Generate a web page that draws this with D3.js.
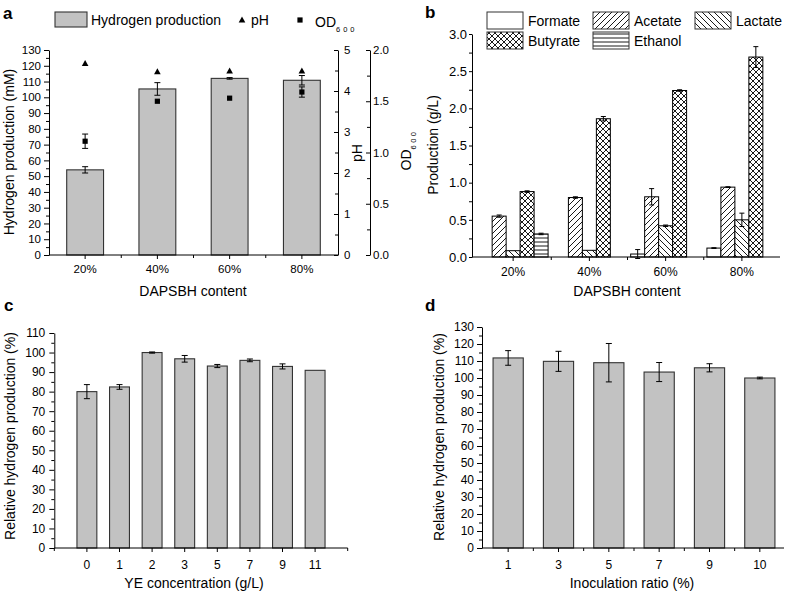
<!DOCTYPE html>
<html><head><meta charset="utf-8">
<script src="https://cdn.jsdelivr.net/npm/d3@7"></script>
<style>body{margin:0;background:#fff} svg{display:block} text{font-family:"Liberation Sans",Arial,sans-serif;fill:#000}</style>
</head><body><script>
// ---------- data ----------
const contentCats = ["20%", "40%", "60%", "80%"];
const h2Production = [54, 105.3, 112, 110.8];
const h2Error = [2, 4, 0.5, 3];
const pHValues = [4.67, 4.47, 4.49, 4.49];
const odValues = [1.11, 1.50, 1.53, 1.59];
const odError = [0.07, 0, 0, 0.05];

const acidNames = ["Formate", "Acetate", "Lactate", "Butyrate", "Ethanol"];
const formateVals = [0, 0, 0.04, 0.12];
const formateErr = [0, 0, 0.06, 0.005];
const acetateVals = [0.55, 0.80, 0.81, 0.94];
const acetateErr = [0.015, 0.01, 0.11, 0.005];
const lactateVals = [0.085, 0.09, 0.42, 0.50];
const lactateErr = [0, 0, 0.01, 0.09];
const butyrateVals = [0.88, 1.86, 2.24, 2.69];
const butyrateErr = [0.01, 0.03, 0.01, 0.14];
const ethanolVals = [0.31, 0, 0, 0];
const ethanolErr = [0.01, 0, 0, 0];

const yeCats = ["0", "1", "2", "3", "5", "7", "9", "11"];
const yeValues = [80.0, 82.4, 100, 96.8, 93.1, 96.0, 92.9, 90.9];
const yeError = [3.6, 1.2, 0.3, 1.7, 0.8, 0.7, 1.3, 0];

const inocCats = ["1", "3", "5", "7", "9", "10"];
const inocValues = [111.8, 109.8, 109, 103.5, 106, 100];
const inocError = [4.3, 5.9, 11.3, 5.6, 2.4, 0.5];

// ---------- setup ----------
const FONT = '"Liberation Sans", Arial, sans-serif';
const BAR_FILL = "#c2c2c2", BAR_STROKE = "#333";
const svg = d3.select("body").append("svg").attr("width", 785).attr("height", 593);

const defs = svg.append("defs");
function pat(id, w, h, d) {
  const p = defs.append("pattern").attr("id", id).attr("patternUnits", "userSpaceOnUse").attr("width", w).attr("height", h);
  p.append("rect").attr("width", w).attr("height", h).attr("fill", "#fff");
  p.append("path").attr("d", d).attr("stroke", "#000").attr("stroke-width", 0.9).attr("fill", "none");
}
pat("pAcetate", 6, 6, "M-1,1 l2,-2 M0,6 l6,-6 M5,7 l2,-2");
pat("pLactate", 6, 6, "M-1,5 l2,2 M0,0 l6,6 M5,-1 l2,2");
pat("pButyrate", 6, 6, "M-1,1 l2,-2 M0,6 l6,-6 M5,7 l2,-2 M-1,5 l2,2 M0,0 l6,6 M5,-1 l2,2");
pat("pEthanol", 4, 4, "M0,2 h4");
const acidFill = { Formate: "#fff", Acetate: "url(#pAcetate)", Lactate: "url(#pLactate)", Butyrate: "url(#pButyrate)", Ethanol: "url(#pEthanol)" };

function styleAxis(a, fs) {
  a.attr("font-family", FONT).attr("font-size", fs);
  a.selectAll("line,path").attr("stroke", "#000");
  return a;
}
function yAxis(side, scale, x, major, minor, fmt, fs, tick, pad) {
  const gen = side === "left" ? d3.axisLeft(scale) : d3.axisRight(scale);
  const a = svg.append("g").attr("transform", `translate(${x},0)`)
    .call(gen.tickValues(major).tickFormat(fmt).tickSizeInner(tick).tickSizeOuter(0).tickPadding(pad));
  styleAxis(a, fs);
  const gen2 = side === "left" ? d3.axisLeft(scale) : d3.axisRight(scale);
  const m = svg.append("g").attr("transform", `translate(${x},0)`)
    .call(gen2.tickValues(minor).tickFormat("").tickSizeInner(tick > 0 ? 3 : -3).tickSizeOuter(0));
  m.select(".domain").remove();
  m.selectAll("line").attr("stroke", "#000");
}
function xAxis(scale, y, x0, x1, fs, pad, minorXs) {
  const a = svg.append("g").attr("transform", `translate(0,${y})`)
    .call(d3.axisBottom(scale).tickSizeInner(4).tickSizeOuter(0).tickPadding(pad));
  a.select(".domain").remove();
  styleAxis(a, fs);
  svg.append("line").attr("x1", x0).attr("x2", x1).attr("y1", y).attr("y2", y).attr("stroke", "#000");
  (minorXs || []).forEach(mx => svg.append("line").attr("x1", mx).attr("x2", mx).attr("y1", y).attr("y2", y + 3).attr("stroke", "#000"));
}
function errBar(x, y1, y2, cap) {
  const g = svg.append("g").attr("stroke", "#000").attr("stroke-width", 1);
  g.append("line").attr("x1", x).attr("x2", x).attr("y1", y1).attr("y2", y2);
  g.append("line").attr("x1", x - cap / 2).attr("x2", x + cap / 2).attr("y1", y1).attr("y2", y1);
  g.append("line").attr("x1", x - cap / 2).attr("x2", x + cap / 2).attr("y1", y2).attr("y2", y2);
}
function text(x, y, s, fs, opts = {}) {
  const t = svg.append("text").attr("x", x).attr("y", y).style("font-size", fs + "px").text(s);
  if (opts.anchor) t.attr("text-anchor", opts.anchor);
  if (opts.bold) t.style("font-weight", "bold");
  return t;
}
function rotText(x, y, s, fs) {
  return svg.append("text").attr("transform", `translate(${x},${y}) rotate(-90)`).attr("text-anchor", "middle").style("font-size", fs + "px").text(s);
}
function triangle(cx, cy) {
  svg.append("path").attr("d", `M${cx},${cy - 3.5} L${cx + 3.3},${cy + 2.5} L${cx - 3.3},${cy + 2.5} Z`).attr("fill", "#000");
}
function square(cx, cy) {
  svg.append("rect").attr("x", cx - 2.6).attr("y", cy - 2.6).attr("width", 5.2).attr("height", 5.2).attr("fill", "#000");
}

// ---------- panel a ----------
{
  const x = d3.scaleBand().domain(contentCats).range([49, 338]);
  const yH = d3.scaleLinear().domain([0, 130]).range([255, 50]);
  const yPH = d3.scaleLinear().domain([0, 5]).range([255, 50]);
  const yOD = d3.scaleLinear().domain([0, 2]).range([255, 50]);
  const bw = x.bandwidth() * 0.51;
  contentCats.forEach((c, i) => {
    const cx = x(c) + x.bandwidth() / 2;
    svg.append("rect").attr("x", cx - bw / 2).attr("width", bw).attr("y", yH(h2Production[i])).attr("height", yH(0) - yH(h2Production[i]))
      .attr("fill", BAR_FILL).attr("stroke", BAR_STROKE).attr("stroke-width", 1.1);
    if (h2Error[i] > 0) errBar(cx, yH(h2Production[i] + h2Error[i]), yH(h2Production[i] - h2Error[i]), 6);
  });
  contentCats.forEach((c, i) => {
    const cx = x(c) + x.bandwidth() / 2;
    if (odError[i] > 0) errBar(cx, yOD(odValues[i] + odError[i]), yOD(odValues[i] - odError[i]), 6);
    triangle(cx, yPH(pHValues[i]));
    square(cx, yOD(odValues[i]));
  });
  yAxis("left", yH, 49, d3.range(0, 131, 10), d3.range(5, 130, 10), d3.format("d"), 11.5, 5, 3);
  yAxis("right", yPH, 338, d3.range(0, 6, 1), d3.range(0.5, 5, 1), d3.format("d"), 11.5, -4, 6);
  yAxis("right", yOD, 370, d3.range(0, 2.01, 0.5), d3.range(0.25, 2, 0.5), d3.format(".1f"), 11.5, -4, 3);
  xAxis(x, 255, 49, 338, 11.5, 6, contentCats.slice(1).map(c => x(c)));
  text(3, 18.5, "a", 17, { bold: true });
  rotText(14, 152, "Hydrogen production (mM)", 14);
  rotText(362, 153, "pH", 14);
  const od = svg.append("text").attr("transform", "translate(411,150) rotate(-90)").attr("text-anchor", "middle").style("font-size", "14px");
  od.append("tspan").text("OD");
  od.append("tspan").attr("dy", 5).attr("letter-spacing", 2.5).style("font-size", "7.5px").text("600");
  text(193, 296, "DAPSBH content", 14, { anchor: "middle" });
  // legend
  svg.append("rect").attr("x", 55).attr("y", 12).attr("width", 32).attr("height", 15).attr("fill", BAR_FILL).attr("stroke", BAR_STROKE).attr("stroke-width", 1.1);
  text(91, 25, "Hydrogen production", 14);
  triangle(242, 20);
  text(251, 25, "pH", 14);
  square(300, 20);
  const lo = text(315, 26.5, "OD", 14);
  lo.append("tspan").attr("dy", 5.5).attr("letter-spacing", 3).style("font-size", "7.5px").text("600");
}

// ---------- panel b ----------
{
  const series = {
    Formate: [formateVals, formateErr], Acetate: [acetateVals, acetateErr], Lactate: [lactateVals, lactateErr],
    Butyrate: [butyrateVals, butyrateErr], Ethanol: [ethanolVals, ethanolErr]
  };
  const x = d3.scaleBand().domain(contentCats).range([475, 780]);
  const xi = d3.scaleBand().domain(acidNames).range([0, x.bandwidth() * 0.917]);
  const y = d3.scaleLinear().domain([0, 3]).range([257, 34]);
  contentCats.forEach((c, i) => {
    const gx = x(c) + (x.bandwidth() - x.bandwidth() * 0.917) / 2;
    acidNames.forEach(a => {
      const v = series[a][0][i], e = series[a][1][i];
      if (v <= 0) return;
      const bx = gx + xi(a);
      svg.append("rect").attr("x", bx).attr("width", xi.bandwidth()).attr("y", y(v)).attr("height", y(0) - y(v))
        .attr("fill", acidFill[a]).attr("stroke", "#000").attr("stroke-width", 1);
      if (e > 0) errBar(bx + xi.bandwidth() / 2, y(v + e), y(v - e), 5);
    });
  });
  yAxis("left", y, 472, d3.range(0, 3.01, 0.5), d3.range(0.25, 3, 0.5), d3.format(".1f"), 13, 3, 2);
  xAxis(x, 257, 472, 780, 12, 6, contentCats.slice(1).map(c => x(c)));
  text(425, 17.5, "b", 17, { bold: true });
  rotText(438, 145, "Production (g/L)", 14);
  text(627, 296, "DAPSBH content", 14, { anchor: "middle" });
  const legend = [["Formate", 487, 12], ["Acetate", 593, 12], ["Lactate", 695, 12], ["Butyrate", 487, 32], ["Ethanol", 593, 32]];
  legend.forEach(([n, lx, ly]) => {
    svg.append("rect").attr("x", lx).attr("y", ly).attr("width", 36).attr("height", 17).attr("fill", acidFill[n]).attr("stroke", "#333").attr("stroke-width", 1);
    text(lx + 41, ly + 14, n, 14);
  });
}

// ---------- panel c ----------
{
  const x = d3.scaleBand().domain(yeCats).range([54.3, 347.7]).paddingOuter(0.5);
  const y = d3.scaleLinear().domain([0, 110]).range([548, 333]);
  const bw = x.step() * 0.61;
  yeCats.forEach((c, i) => {
    const cx = x(c) + x.bandwidth() / 2;
    svg.append("rect").attr("x", cx - bw / 2).attr("width", bw).attr("y", y(yeValues[i])).attr("height", y(0) - y(yeValues[i]))
      .attr("fill", BAR_FILL).attr("stroke", BAR_STROKE).attr("stroke-width", 1.1);
    if (yeError[i] > 0) errBar(cx, y(yeValues[i] + yeError[i]), y(yeValues[i] - yeError[i]), 6);
  });
  yAxis("left", y, 54.3, d3.range(0, 111, 10), d3.range(5, 110, 10), d3.format("d"), 12, 5, 4);
  xAxis(x, 548, 54.3, 347.7, 12, 8, [54.3, 347.7]);
  text(4, 311, "c", 17, { bold: true });
  rotText(15, 436, "Relative hydrogen production (%)", 14);
  text(194, 588, "YE concentration (g/L)", 14, { anchor: "middle" });
}

// ---------- panel d ----------
{
  const x = d3.scaleBand().domain(inocCats).range([483, 785]);
  const y = d3.scaleLinear().domain([0, 130]).range([548, 327]);
  const bw = x.step() * 0.6;
  inocCats.forEach((c, i) => {
    const cx = x(c) + x.bandwidth() / 2;
    svg.append("rect").attr("x", cx - bw / 2).attr("width", bw).attr("y", y(inocValues[i])).attr("height", y(0) - y(inocValues[i]))
      .attr("fill", BAR_FILL).attr("stroke", BAR_STROKE).attr("stroke-width", 1.1);
    if (inocError[i] > 0) errBar(cx, y(inocValues[i] + inocError[i]), y(inocValues[i] - inocError[i]), 6);
  });
  yAxis("left", y, 482, d3.range(0, 131, 10), d3.range(5, 130, 10), d3.format("d"), 12, 5, 3);
  xAxis(x, 548, 482, 784, 12, 8, inocCats.slice(1).map(c => x(c)));
  text(425, 311, "d", 17, { bold: true });
  rotText(444, 437, "Relative hydrogen production (%)", 14);
  text(632, 588, "Inoculation ratio (%)", 14, { anchor: "middle" });
}
</script></body></html>
